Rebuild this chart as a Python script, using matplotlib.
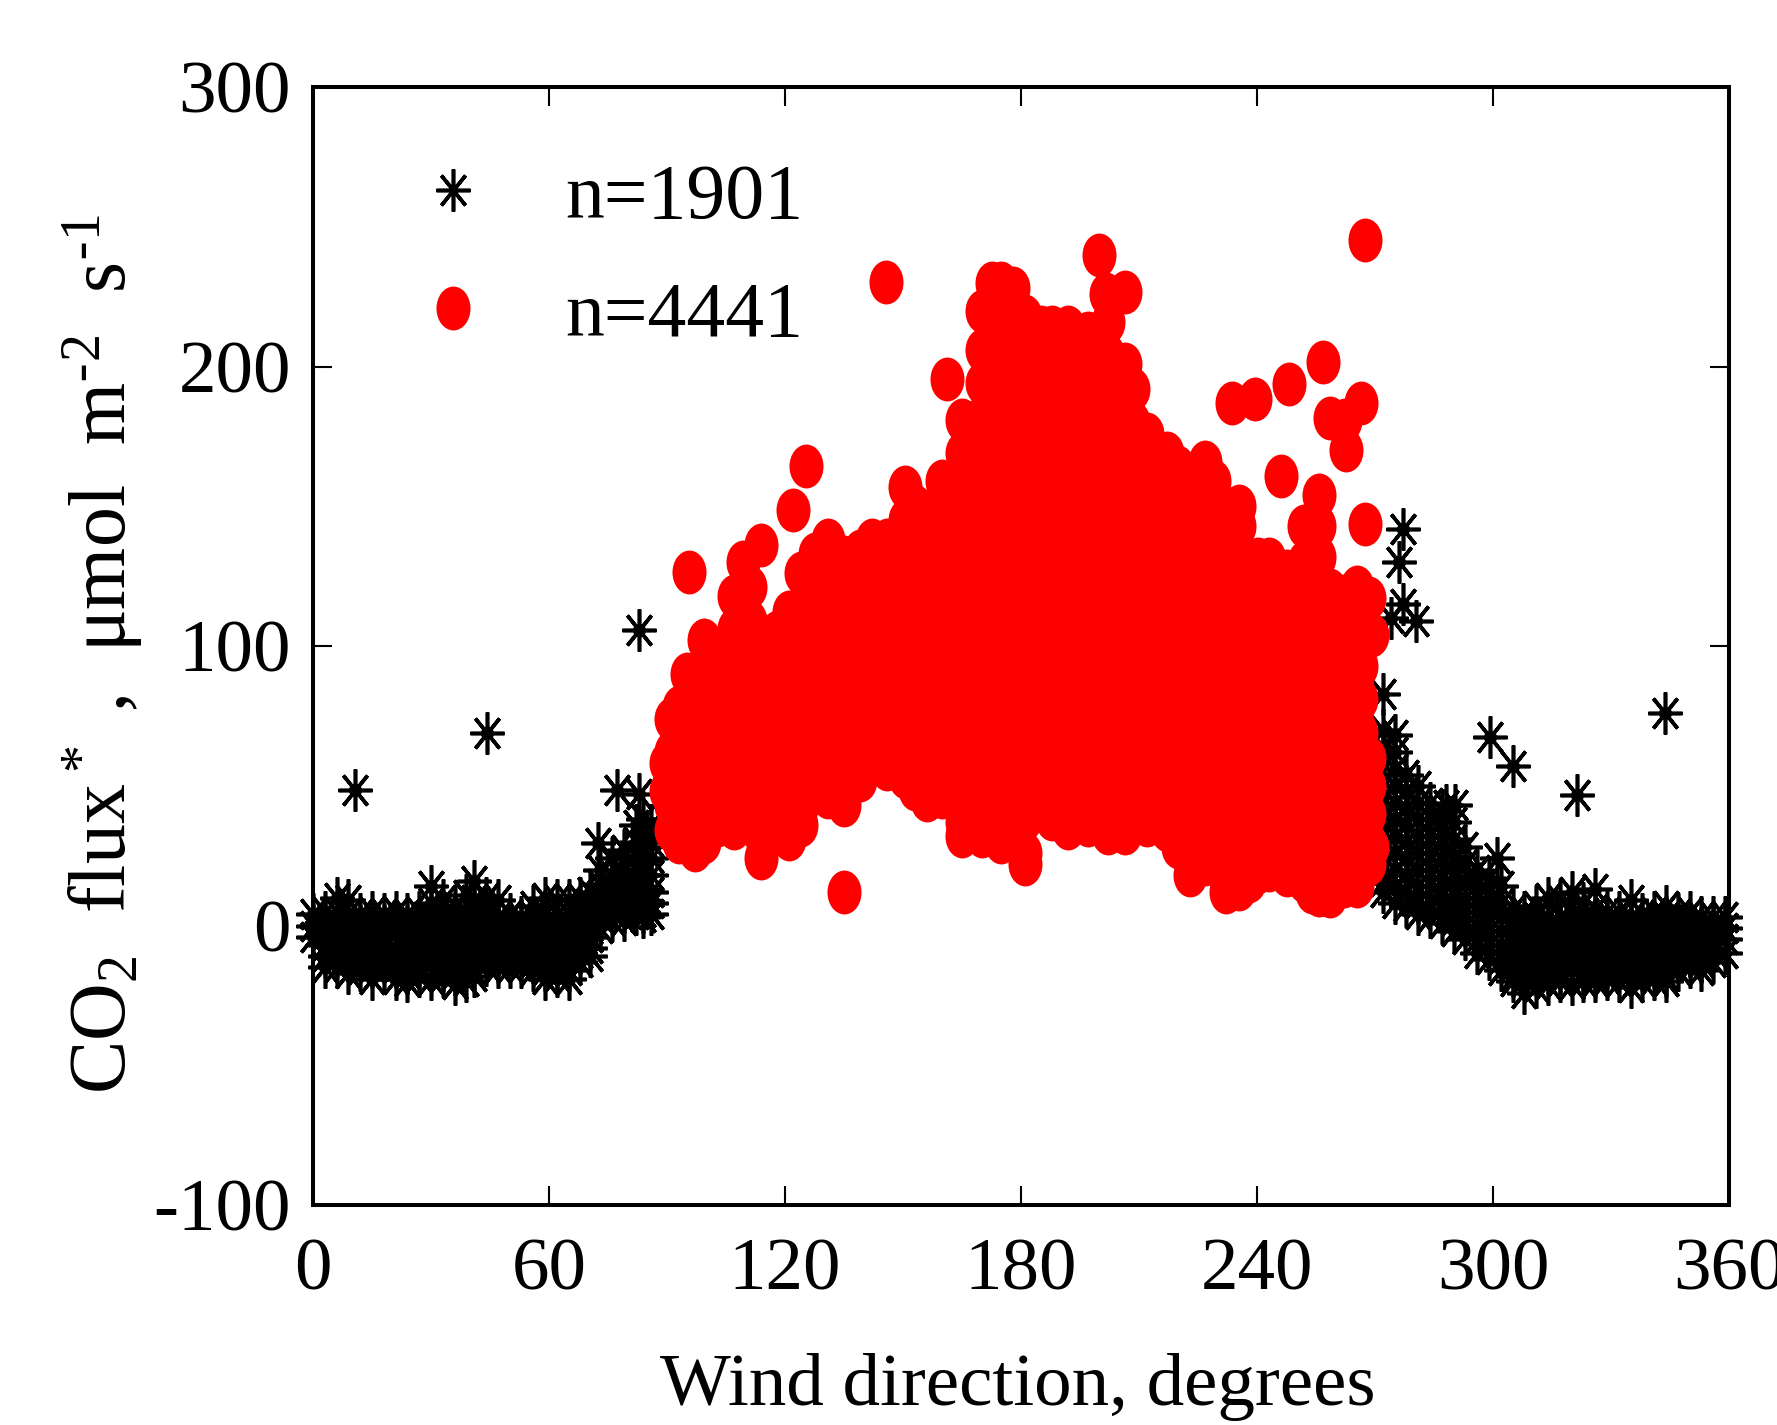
import matplotlib
matplotlib.use('Agg')
import matplotlib.pyplot as plt
from matplotlib.markers import MarkerStyle
from matplotlib.transforms import Affine2D

plt.rcParams['font.family'] = ['Liberation Serif', 'DejaVu Serif']
plt.rcParams['mathtext.default'] = 'regular'
plt.rcParams['axes.unicode_minus'] = False

# black stars
star_dirs = [0, 3, 6, 9, 12, 15, 18, 21, 24, 27, 30, 33, 36, 39, 41, 44, 47, 50, 53, 56, 59, 62, 65, 68,
             70.5, 73, 76, 79, 82, 84, 86,
             272, 275, 278, 281, 284, 287, 290, 293, 296, 299, 302, 305, 308, 311, 314, 317, 320, 323,
             326, 329, 332, 335, 338, 341, 344, 347, 350, 353, 356, 359]
star_flux = [
    [4, 0, -4],
    [5, 1, -3, -7, -11, -15],
    [10, 5, 1, -3, -7, -11, -15],
    [9, 4, 0, -4, -8, -12, -17],
    [4, 0, -4, -8, -12, -16],
    [5, 1, -3, -7, -11, -15, -19],
    [4, 0, -4, -8, -12, -16],
    [5, 1, -3, -8, -12, -15, -19],
    [4, 0, -4, -8, -13, -17, -20],
    [5, 1, -3, -7, -11, -15, -18],
    [14, 8, 3, -1, -5, -9, -13, -19],
    [9, 4, 0, -4, -8, -12, -16, -18],
    [7, 3, -1, -5, -9, -13, -17, -21],
    [11, 5, 1, -3, -7, -11, -15, -20],
    [16, 9, 4, 0, -4, -8, -12, -16, -18],
    [10, 5, 1, -3, -7, -11, -14],
    [9, 3, -1, -5, -9, -13, -15],
    [4, 0, -4, -8, -12, -15],
    [3, -1, -5, -9, -13, -15],
    [7, 3, -1, -5, -9, -13, -16],
    [10, 4, 0, -4, -8, -12, -16, -19],
    [9, 4, 0, -4, -8, -12, -16, -18],
    [9, 4, 0, -4, -8, -12, -16, -19],
    [10, 6, 2, -2, -6, -10, -13],
    [12, 8, 4, 0, -4, -8, -11],
    [20, 15, 11, 7, 3, -1],
    [24, 18, 14, 10, 6, 2],
    [27, 22, 17, 13, 9, 5, 2],
    [36, 30, 25, 20, 15, 11, 7, 4],
    [38, 33, 28, 23, 18, 13, 9, 5, 3],
    [36, 30, 24, 18, 12, 8, 4],
    [70, 64, 58, 52, 46, 40, 34, 28, 22, 16, 12],
    [68, 62, 56, 50, 44, 38, 32, 26, 20, 14, 8],
    [54, 48, 42, 36, 30, 24, 18, 12, 7],
    [50, 44, 38, 32, 26, 20, 14, 8, 4],
    [44, 38, 32, 26, 20, 14, 8, 3],
    [41, 35, 29, 23, 17, 11, 6, 1],
    [37, 31, 25, 19, 13, 7, 2, -2],
    [28, 22, 16, 10, 5, 0, -5],
    [20, 15, 10, 5, 0, -5, -10],
    [17, 12, 7, 3, -2, -7, -12],
    [14, 8, 3, -2, -7, -12, -16],
    [6, 2, -2, -6, -10, -14, -18, -20],
    [5, 1, -3, -7, -11, -15, -19, -24],
    [7, 3, -1, -5, -9, -13, -17, -22],
    [10, 3, -1, -5, -9, -13, -17, -21],
    [9, 3, -1, -5, -9, -13, -17, -20],
    [12, 4, 0, -4, -8, -12, -16, -21],
    [8, 3, -1, -5, -9, -13, -17, -20],
    [13, 6, 2, -2, -6, -10, -14, -18, -20],
    [5, 1, -3, -7, -11, -15, -19],
    [5, 1, -3, -7, -11, -15, -20],
    [9, 3, -1, -5, -9, -13, -17, -22],
    [4, 0, -4, -8, -12, -16, -20],
    [5, 1, -3, -7, -11, -15, -19],
    [7, 3, -1, -5, -9, -13, -18, -20],
    [4, 0, -4, -8, -12, -16],
    [5, 1, -3, -7, -11, -15],
    [3, -1, -5, -9, -13, -16],
    [3, -1, -5, -9, -13],
    [3, -1, -5, -10],
]
star_out_dir = [10.7, 44.2, 82.9, 77.3, 72.5, 83, 277.1, 276, 277.1, 280.5, 274, 272, 299.3, 305.1,
                321.4, 343.8, 301, 290.4, 288]
star_out_flux = [48.4, 69, 105.7, 48.4, 29.5, 47, 142, 130, 115, 109, 110, 83, 67.4, 57,
                 46.7, 76, 24, 43, 43]

# red dots
red_dirs = [89.8, 91, 93, 95, 97, 99.4, 103, 107, 109.3, 111, 114, 118, 121, 124, 127.5, 131, 135, 139,
            142, 146, 150.5, 153, 156, 160, 165, 170, 172.6, 175, 178, 181, 185, 188, 192, 197, 202,
            206.5, 208.5, 212, 217, 220, 223, 226.8, 229, 232, 235.5, 238, 240.3, 243, 247.5, 250.5,
            252, 254, 255.8, 258.6, 262, 265.4, 266.5, 268.5, 269.3]
red_flux = [
    [58, 48],
    [74, 62, 52, 43, 34],
    [78, 66, 54, 42, 30],
    [90, 78, 66, 54, 42, 30],
    [86, 74, 62, 50, 38, 27],
    [102, 90, 78, 66, 54, 42, 30],
    [96, 84, 72, 60, 48, 36],
    [118, 106, 94, 82, 70, 58, 46, 35],
    [130, 118, 106, 94, 82, 70, 58, 46, 38],
    [121, 109, 97, 85, 73, 61, 49, 37],
    [136, 104, 92, 80, 68, 56, 44, 32, 24],
    [105, 93, 81, 69, 57, 45, 33],
    [112, 100, 88, 76, 64, 52, 40, 31],
    [126, 114, 102, 90, 78, 66, 54, 42, 36],
    [133, 121, 109, 97, 85, 73, 61, 52],
    [138, 126, 114, 102, 90, 78, 66, 54, 46],
    [132, 120, 108, 96, 84, 72, 60, 48, 43],
    [134, 122, 110, 98, 86, 74, 62, 52],
    [138, 126, 114, 102, 90, 78, 66, 58],
    [138, 126, 114, 102, 90, 78, 66, 56],
    [157, 145, 133, 121, 109, 97, 85, 73, 61, 53],
    [150, 138, 126, 114, 102, 90, 78, 66, 54, 49],
    [148, 136, 124, 112, 100, 88, 76, 64, 52, 45],
    [159, 147, 135, 123, 111, 99, 87, 75, 63, 51, 46],
    [181, 169, 157, 145, 133, 121, 109, 97, 85, 73, 61, 49, 37, 32],
    [220, 206, 194, 182, 170, 158, 146, 134, 122, 110, 98, 86, 74, 62, 50, 38, 32],
    [230, 218, 206, 194, 182, 170, 158, 146, 134, 122, 110, 98, 86, 74, 62, 50, 38, 33],
    [230, 218, 206, 194, 182, 170, 158, 146, 134, 122, 110, 98, 86, 74, 62, 50, 38, 30],
    [228, 216, 204, 192, 180, 168, 156, 144, 132, 120, 108, 96, 84, 72, 60, 48, 36, 31],
    [218, 206, 194, 182, 170, 158, 146, 134, 122, 110, 98, 86, 74, 62, 50, 38, 26, 22],
    [214, 202, 190, 178, 166, 154, 142, 130, 118, 106, 94, 82, 70, 58, 46, 43],
    [214, 202, 190, 178, 166, 154, 142, 130, 118, 106, 94, 82, 70, 58, 46, 38],
    [214, 202, 190, 178, 166, 154, 142, 130, 118, 106, 94, 82, 70, 58, 46, 35],
    [212, 200, 188, 176, 164, 152, 140, 128, 116, 104, 92, 80, 68, 56, 44, 36],
    [216, 204, 192, 180, 168, 156, 144, 132, 120, 108, 96, 84, 72, 60, 48, 36, 33],
    [201, 189, 177, 165, 153, 141, 129, 117, 105, 93, 81, 69, 57, 45, 33],
    [192, 180, 168, 156, 144, 132, 120, 108, 96, 84, 72, 60, 48, 38],
    [176, 164, 152, 140, 128, 116, 104, 92, 80, 68, 56, 44, 36],
    [169, 157, 145, 133, 121, 109, 97, 85, 73, 61, 49, 37, 34],
    [164, 152, 140, 128, 116, 104, 92, 80, 68, 56, 44, 32, 28],
    [160, 148, 136, 124, 112, 100, 88, 76, 64, 52, 40, 28, 18],
    [166, 154, 142, 130, 118, 106, 94, 82, 70, 58, 46, 34, 22],
    [159, 147, 135, 123, 111, 99, 87, 75, 63, 51, 39, 27, 24],
    [148, 136, 124, 112, 100, 88, 76, 64, 52, 40, 28, 16, 12],
    [150, 143, 131, 119, 107, 95, 83, 71, 59, 47, 35, 23, 13],
    [130, 118, 106, 94, 82, 70, 58, 46, 34, 22, 16],
    [131, 119, 107, 95, 83, 71, 59, 47, 35, 23, 19],
    [131, 119, 107, 95, 83, 71, 59, 47, 35, 23, 20],
    [127, 115, 103, 91, 79, 67, 55, 43, 31, 18],
    [127, 115, 103, 91, 79, 67, 55, 43, 31, 20],
    [143, 130, 118, 106, 94, 82, 70, 58, 46, 34, 22, 16],
    [144, 134, 122, 110, 98, 86, 74, 62, 50, 38, 26, 12],
    [154, 143, 132, 120, 108, 96, 84, 72, 60, 48, 36, 24, 11],
    [120, 108, 96, 84, 72, 60, 48, 36, 24, 10.5],
    [118, 106, 94, 82, 70, 58, 46, 34, 22, 14],
    [121, 109, 97, 85, 73, 61, 49, 37, 25, 14],
    [117, 105, 93, 81, 69, 57, 45, 33, 21],
    [117, 105, 60, 50, 40, 30, 22],
    [104, 28],
]
red_out_dir = [145.7, 125.4, 122, 95.6, 161.2, 199.9, 267.5, 201.6, 206.5, 256.8, 248.2, 239.5, 233.7,
               266.5, 258.6, 262.7, 262.4, 246.1, 267.5, 135]
red_out_flux = [230.2, 164.4, 148.7, 126.5, 195.5, 239.9, 245.3, 226, 226.6, 201.6, 193.7, 188.3, 186.9,
                186.9, 181.5, 170, 180.8, 160.8, 143.6, 12]

x_ticks = [0, 60, 120, 180, 240, 300, 360]
y_ticks = [-100, 0, 100, 200, 300]

star_x = star_out_dir[:]
star_y = star_out_flux[:]
for d, col in zip(star_dirs, star_flux):
    star_x += [d] * len(col)
    star_y += col

red_x = red_out_dir[:]
red_y = red_out_flux[:]
for d, col in zip(red_dirs, red_flux):
    red_x += [d] * len(col)
    red_y += col

W, H = 1777, 1425
fig = plt.figure(figsize=(W / 100, H / 100), dpi=100)
ax = fig.add_axes([313 / W, (H - 1205) / H, 1416 / W, 1118 / H])

star_marker = MarkerStyle((8, 2, 0), transform=Affine2D().scale(1, 1.24))
red_marker = MarkerStyle('o', transform=Affine2D().scale(1, 1.29))

ax.plot(star_x, star_y, ls='none', marker=star_marker, ms=24.5, mew=2.6, color='black',
        clip_on=False, label='n=1901')
# solid middle of each star
ax.plot(star_x, star_y, ls='none', marker='o', ms=9.5, mew=0, color='black', clip_on=False)
ax.plot(red_x, red_y, ls='none', marker=red_marker, ms=24.5, mew=0, color='#ff0000',
        clip_on=False, label='n=4441')

ax.set_xlim(0, 360)
ax.set_ylim(-100, 300)
ax.set_xticks(x_ticks)
ax.set_yticks(y_ticks)
ax.tick_params(direction='in', top=True, right=True, length=13.5, width=1.5, labelsize=54)
ax.tick_params(axis='x', pad=24)
ax.tick_params(axis='y', pad=16)
for s in ax.spines.values():
    s.set_linewidth(2.9)

ax.set_xlabel('Wind direction, degrees', fontsize=54)
ax.xaxis.set_label_coords(0.4975, -0.132, transform=ax.transAxes)
ax.xaxis.label.set_verticalalignment('top')
ax.set_ylabel('CO$_2$  flux$^*$ ,  \u03bcmol  m$^{\\text{-}2}$  s$^{\\text{-}1}$', fontsize=57.5)
ax.yaxis.set_label_coords(-0.118, 0.493, transform=ax.transAxes)

ax.legend(loc='upper left', bbox_to_anchor=(0.0713, 0.932), frameon=False, numpoints=1, fontsize=56,
          handlelength=1, handletextpad=0.95, borderpad=0, borderaxespad=0, labelspacing=0.6)

fig.savefig('out.png', dpi=100)
print("Guardado: out.png")
